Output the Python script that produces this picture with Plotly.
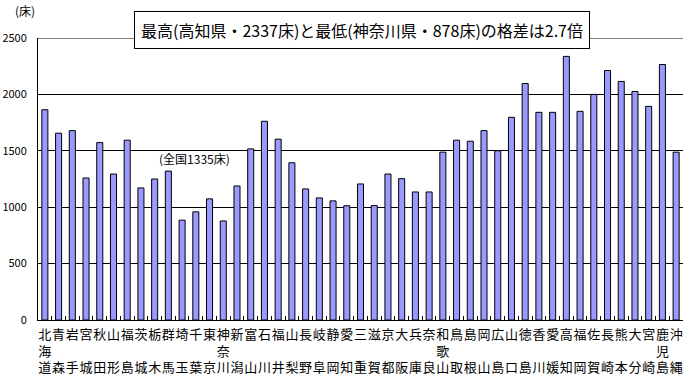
import plotly.graph_objects as go

prefs = ["北海道","青森","岩手","宮城","秋田","山形","福島","茨城","栃木","群馬",
         "埼玉","千葉","東京","神奈川","新潟","富山","石川","福井","山梨","長野",
         "岐阜","静岡","愛知","三重","滋賀","京都","大阪","兵庫","奈良","和歌山",
         "鳥取","島根","岡山","広島","山口","徳島","香川","愛媛","高知","福岡",
         "佐賀","長崎","熊本","大分","宮崎","鹿児島","沖縄"]
beds = [1864,1656,1679,1259,1573,1294,1594,1171,1250,1320,
        885,959,1074,878,1188,1517,1762,1603,1394,1162,
        1082,1056,1013,1206,1014,1294,1253,1135,1135,1488,
        1594,1585,1679,1500,1797,2097,1841,1841,2337,1850,
        2000,2212,2115,2026,1894,2265,1488]
y_ticks = [0, 500, 1000, 1500, 2000, 2500]
y_max = 2500

def stack(name):
    if len(name) == 3:
        return "<br>".join(name)
    return name[0] + "<br>　<br>" + name[1]

labels = [stack(p) for p in prefs]

font = "Noto Sans CJK JP"
fig = go.Figure()
fig.add_trace(go.Bar(
    x=prefs, y=beds,
    marker=dict(color="#9999FF", line=dict(color="black", width=1)),
))
fig.update_layout(
    width=689, height=380,
    margin=dict(l=38, r=6, t=38, b=60),
    plot_bgcolor="white", paper_bgcolor="white",
    showlegend=False, bargap=0.56,
    font=dict(family=font, color="black"),
)
fig.update_xaxes(
    tickmode="array", tickvals=prefs, ticktext=labels,
    tickangle=0, tickfont=dict(size=13, family=font),
    showline=True, linecolor="black", linewidth=1,
    ticks="inside", ticklen=4, tickcolor="black", tickson="boundaries",
    showgrid=False, automargin=False, ticklabelstandoff=2,
)
fig.update_yaxes(
    range=[0, y_max], tickvals=y_ticks, tickfont=dict(size=11, family=font),
    showline=True, linecolor="black", linewidth=1,
    showgrid=True, gridcolor="black", gridwidth=1,
    zeroline=False, ticks="", ticklabelstandoff=8, automargin=False,
)
fig.add_shape(type="line", xref="paper", yref="y", x0=0, x1=1, y0=y_max, y1=y_max,
              line=dict(color="black", width=1), layer="below")
fig.add_annotation(text="(床)", xref="paper", yref="paper", x=-0.02, y=1.099,
                   xanchor="center", yanchor="middle", showarrow=False,
                   font=dict(size=12, family=font))
fig.add_annotation(text="(全国1335床)", xref="paper", yref="paper", x=0.242, y=0.574,
                   xanchor="center", yanchor="middle", showarrow=False,
                   font=dict(size=12, family=font))
fig.add_annotation(text="最高(高知県・2337床)と最低(神奈川県・878床)の格差は2.7倍",
                   xref="paper", yref="paper", x=0.503, y=1.03, xanchor="center",
                   yanchor="middle", showarrow=False, font=dict(size=16, family=font),
                   bgcolor="white", bordercolor="black", borderwidth=1, borderpad=6)
fig.write_html("out.html", config={"displayModeBar": False},
               post_script="document.body.style.margin='0';document.body.style.padding='0';")
